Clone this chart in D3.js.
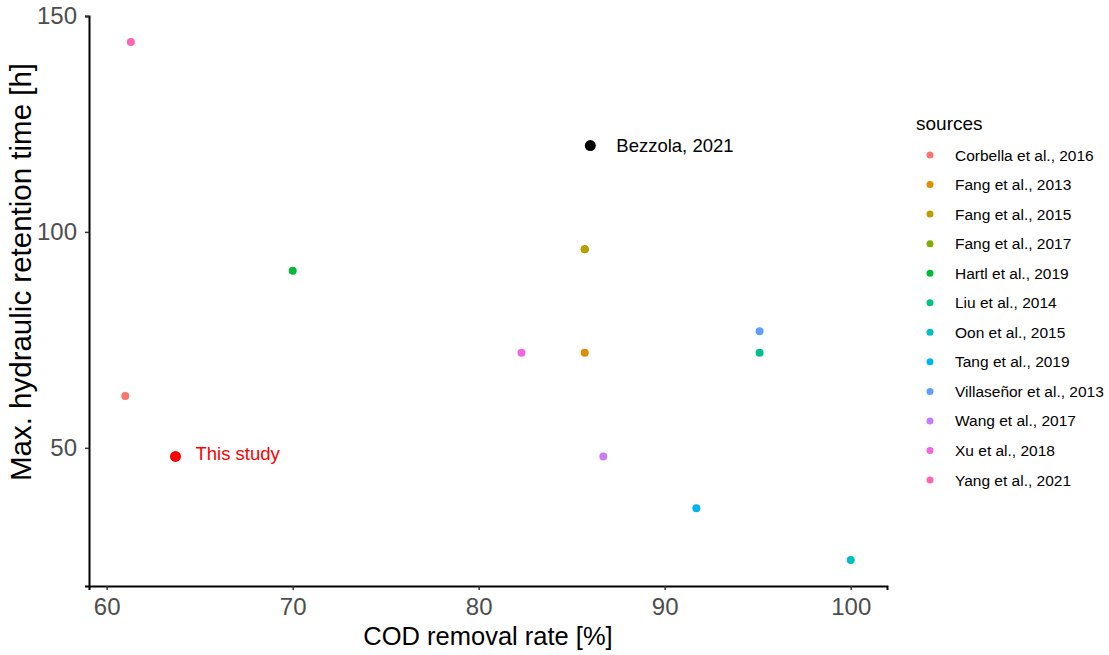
<!DOCTYPE html>
<html>
  <head>
    <meta charset="UTF-8" />
    <title>COD removal vs HRT</title>
    <style>
      body { margin: 0; background: #fff; }
      svg { font-family: "Liberation Sans", Arial, sans-serif; }
    </style>
  </head>
  <body>
    <svg width="1109" height="655"></svg>

    <script src="https://cdn.jsdelivr.net/npm/d3@7"></script>
    <script>
      // 文献数据
      const sources = [
        "Corbella et al., 2016", "Fang et al., 2013", "Fang et al., 2015",
        "Fang et al., 2017", "Hartl et al., 2019", "Liu et al., 2014",
        "Oon et al., 2015", "Tang et al., 2019", "Villaseñor et al., 2013",
        "Wang et al., 2017", "Xu et al., 2018", "Yang et al., 2021"
      ];
      const colors = [
        "#F8766D", "#DE8C00", "#B79F00", "#7CAE00", "#00BA38", "#00C08B",
        "#00BFC4", "#00B4F0", "#619CFF", "#C77CFF", "#F564E3", "#FF64B0"
      ];
      // 绘制顺序 (Fang 2017 被 Fang 2015 覆盖)
      const pointSource = [
        "Fang et al., 2017", "Fang et al., 2015", "Corbella et al., 2016",
        "Fang et al., 2013", "Hartl et al., 2019", "Liu et al., 2014",
        "Oon et al., 2015", "Tang et al., 2019", "Villaseñor et al., 2013",
        "Wang et al., 2017", "Xu et al., 2018", "Yang et al., 2021"
      ];
      const codRemoval = [85.7, 85.7, 61.0, 85.7, 70.0, 95.1, 100.0, 91.7, 95.1, 86.7, 82.3, 61.3];
      const hrt = [96, 96, 62, 72, 91, 72, 24, 36, 77, 48, 72, 144];

      // 高亮点
      const highlightLabels = ["This study", "Bezzola, 2021"];
      const highlightX = [63.7, 86.0];
      const highlightY = [48, 120];
      const highlightColors = ["#FF0000", "#000000"];
      const labelShift = [[20, 4], [26, 6]]; // 标签像素偏移

      const xTicks = [60, 70, 80, 90, 100];
      const yTicks = [50, 100, 150];

      const svg = d3.select("svg");

      // 比例尺 (ggplot 5% 扩展)
      const xAll = codRemoval.concat(highlightX);
      const yAll = hrt.concat(highlightY);
      const xMin = d3.min(xAll), xMax = d3.max(xAll);
      const yMin = d3.min(yAll), yMax = d3.max(yAll);
      const xPad = (xMax - xMin) * 0.05, yPad = (yMax - yMin) * 0.05;

      const x = d3.scaleLinear().domain([xMin - xPad, xMax + xPad]).range([89, 887]);
      const y = d3.scaleLinear().domain([yMin - yPad, yMax + yPad]).range([586, 16]);
      const color = d3.scaleOrdinal().domain(sources).range(colors);

      // 坐标轴
      const xAxis = svg.append("g")
        .attr("transform", "translate(0,586)")
        .call(d3.axisBottom(x).tickValues(xTicks).tickSize(4).tickPadding(8));
      const yAxis = svg.append("g")
        .attr("transform", "translate(89,0)")
        .call(d3.axisLeft(y).tickValues(yTicks).tickSize(4).tickPadding(8));

      [xAxis, yAxis].forEach((g) => {
        g.select(".domain").attr("stroke", "#000").attr("stroke-width", 2);
        g.selectAll(".tick line").attr("stroke", "#333").attr("stroke-width", 1.5);
        g.selectAll(".tick text")
          .attr("fill", "#4D4D4D")
          .attr("font-size", "24px")
          .attr("font-family", "Liberation Sans, Arial, sans-serif");
      });

      // 轴标题
      svg.append("text")
        .attr("x", (89 + 887) / 2)
        .attr("y", 645)
        .attr("text-anchor", "middle")
        .attr("font-size", "25.5px")
        .attr("fill", "#000")
        .text("COD removal rate [%]");

      svg.append("text")
        .attr("transform", "translate(31,272) rotate(-90)")
        .attr("text-anchor", "middle")
        .attr("font-size", "29.5px")
        .attr("fill", "#000")
        .text("Max. hydraulic retention time [h]");

      // 文献点
      svg.append("g")
        .selectAll("circle")
        .data(pointSource)
        .enter()
        .append("circle")
        .attr("cx", (d, i) => x(codRemoval[i]))
        .attr("cy", (d, i) => y(hrt[i]))
        .attr("r", 4)
        .attr("fill", (d) => color(d));

      // 高亮点及标签
      const hl = svg.append("g")
        .selectAll("g")
        .data(highlightLabels)
        .enter()
        .append("g");
      hl.append("circle")
        .attr("cx", (d, i) => x(highlightX[i]))
        .attr("cy", (d, i) => y(highlightY[i]))
        .attr("r", 5.5)
        .attr("fill", (d, i) => highlightColors[i]);
      hl.append("text")
        .attr("x", (d, i) => x(highlightX[i]) + labelShift[i][0])
        .attr("y", (d, i) => y(highlightY[i]) + labelShift[i][1])
        .attr("font-size", "18.5px")
        .attr("fill", (d, i) => highlightColors[i])
        .text((d) => d);

      // 图例
      const legend = svg.append("g").attr("transform", "translate(916,0)");
      legend.append("text")
        .attr("x", 0)
        .attr("y", 130)
        .attr("font-size", "19px")
        .attr("fill", "#000")
        .text("sources");
      const item = legend.selectAll(".item")
        .data(sources)
        .enter()
        .append("g")
        .attr("class", "item")
        .attr("transform", (d, i) => `translate(0,${155 + i * 29.55})`);
      item.append("circle")
        .attr("cx", 14)
        .attr("cy", 0)
        .attr("r", 3.5)
        .attr("fill", (d) => color(d));
      item.append("text")
        .attr("x", 39)
        .attr("y", 5.5)
        .attr("font-size", "15.5px")
        .attr("fill", "#000")
        .text((d) => d);
    </script>
  </body>
</html>
